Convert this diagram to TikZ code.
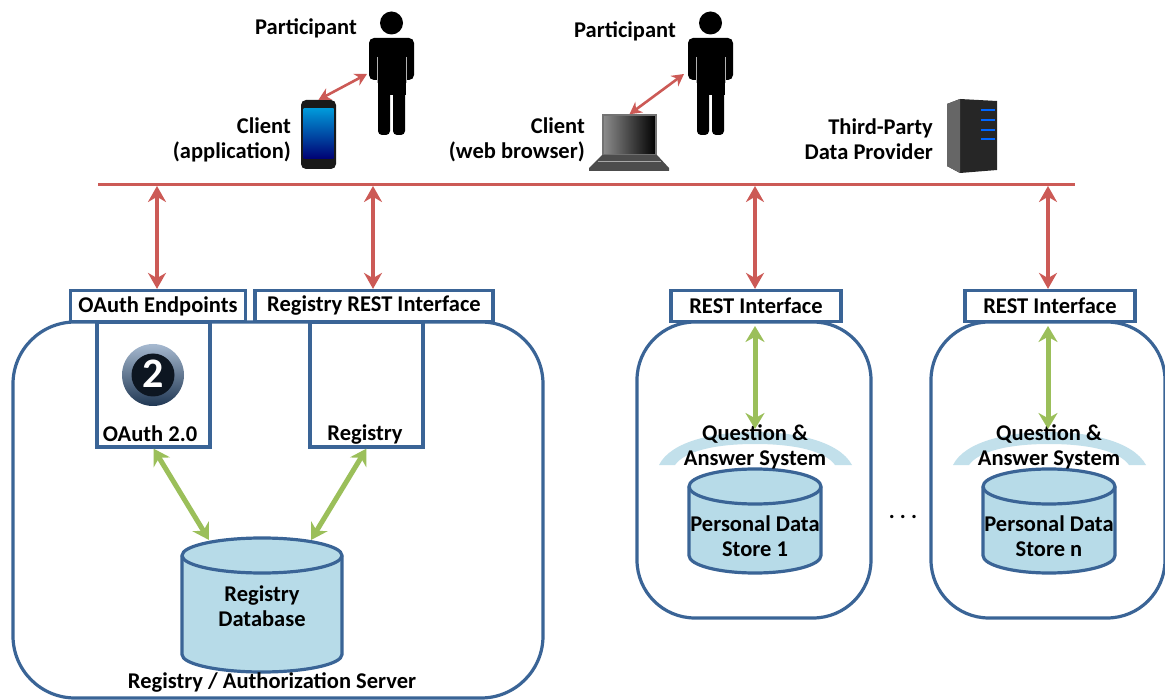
\documentclass[tikz,border=0pt]{standalone}
\usepackage{fontspec}
\setmainfont{Carlito}
\usetikzlibrary{arrows.meta}
\definecolor{boxblue}{HTML}{3A6496}
\definecolor{dbfill}{HTML}{B7DBE8}
\definecolor{busred}{HTML}{CC5A56}
\definecolor{linkgreen}{HTML}{9BBF5A}
\tikzset{
  lbl/.style={font=\fontsize{22.5}{25}\selectfont\bfseries, inner sep=0pt, align=center},
  lblr/.style={lbl, align=right, anchor=east},
  srvbox/.style={draw=boxblue, line width=3.2pt, rounded corners=62pt, fill=white},
  iface/.style={draw=boxblue, line width=3.2pt, fill=white, inner sep=0pt},
  appbox/.style={draw=boxblue, line width=3.2pt, fill=white, inner sep=0pt},
  redlink/.style={draw=busred, line width=4.8pt, {Stealth[length=16pt,width=18pt]}-{Stealth[length=16pt,width=18pt]}},
  thinlink/.style={draw=busred, line width=2.6pt, {Stealth[length=12pt,width=13pt]}-{Stealth[length=12pt,width=13pt]}},
  greenlink/.style={draw=linkgreen, line width=5pt, {Stealth[length=16pt,width=19pt]}-{Stealth[length=16pt,width=19pt]}},
  pics/dbcyl/.style 2 args={code={
    \draw[draw=boxblue, line width=3.2pt, fill=dbfill] (-#1,17.5) -- (-#1,{#2-17.5})
      arc[start angle=180, end angle=0, x radius=#1, y radius=17.5]
      -- (#1,17.5) arc[start angle=0, end angle=-180, x radius=#1, y radius=17.5] -- cycle;
    \draw[draw=boxblue, line width=3.2pt] (-#1,17.5) arc[start angle=180, end angle=0, x radius=#1, y radius=17.5];
  }},
  person/.pic={
    \fill (0,-112) circle (11.5);
    \fill[rounded corners=5pt] (-22.5,-97) rectangle (22.5,-55);
    \fill (-14,-70) rectangle (14,-40);
    \fill[rounded corners=4pt] (-13.5,-50) rectangle (-1.5,0);
    \fill[rounded corners=4pt] (1.5,-50) rectangle (13.5,0);
    \draw[white!70!black, line width=0.8pt] (-14.5,-78) -- (-14.5,-52);
    \draw[white!70!black, line width=0.8pt] (14.5,-78) -- (14.5,-52);
  },
  qasys/.pic={
    \fill[dbfill!85!white] (-96,0) .. controls (-84,-24) and (-40,-33) .. (0,-33)
      .. controls (40,-33) and (84,-24) .. (97,0) -- (80,0)
      .. controls (70,-14) and (40,-21) .. (0,-21)
      .. controls (-40,-21) and (-70,-14) .. (-80,0) -- cycle;
  }
}
\begin{document}
\begin{tikzpicture}[x=1pt,y=-1pt]
    \useasboundingbox (0,0) rectangle (1165,700);
    % servers
    \node (regsrv) [srvbox, minimum width=530pt, minimum height=376pt] at (278,510) {};
    \node (pdssrvA) [srvbox, rounded corners=58pt, minimum width=234pt, minimum height=296pt] at (754,470) {};
    \node (pdssrvB) [srvbox, rounded corners=58pt, minimum width=234pt, minimum height=296pt] at (1048,470) {};
    % registry side
    \node (oauthbox) [appbox, minimum width=113pt, minimum height=125pt] at (153.5,384.5) {};
    \node (regbox) [appbox, minimum width=113pt, minimum height=125pt] at (366.5,384.5) {};
    \node (oauthep) [iface, lbl, minimum width=175pt, minimum height=31pt] at (158,306) {OAuth Endpoints};
    \node (regrest) [iface, lbl, minimum width=238pt, minimum height=31pt] at (374,306) {Registry REST Interface};
    \node (oauthtxt) [lbl] at (150,434) {OAuth 2.0};
    \node (regtxt) [lbl] at (365,435) {Registry};
    \pic at (262,538) {dbcyl={80}{134}};
    \node (regdbtxt) [lbl] at (262,606) {Registry\\Database};
    \node (srvtxt) [lbl] at (272,682) {Registry / Authorization Server};
    \coordinate (regdbL) at (209,540);
    \coordinate (regdbR) at (311,540);
    \draw [greenlink] (oauthbox.south) -- (regdbL);
    \draw [greenlink] (regbox.south) -- (regdbR);
    % logo
    \node (logo) [circle, minimum size=62pt, inner sep=0pt, top color=boxblue!45!white, bottom color=boxblue!55!black] at (153,375) {};
    \fill [black!78!boxblue] (153,375) circle (21.5);
    \node (logotxt) [font=\fontsize{42}{42}\selectfont\bfseries, text=white, inner sep=0pt] at (153,374) {2};
    % data stores
    \node (restA) [iface, lbl, minimum width=170pt, minimum height=31pt] at (756,306) {REST Interface};
    \node (restB) [iface, lbl, minimum width=170pt, minimum height=31pt] at (1050,306) {REST Interface};
    \pic at (755,465) {qasys};
    \pic at (1049,465) {qasys};
    \pic at (755,469) {dbcyl={66}{104}};
    \pic at (1049,469) {dbcyl={66}{104}};
    \node (qaA) [lbl] at (755,447) {Question \&\\Answer System};
    \node (qaB) [lbl] at (1049,447) {Question \&\\Answer System};
    \node (pdsAtxt) [lbl] at (755,536) {Personal Data\\Store 1};
    \node (pdsBtxt) [lbl] at (1049,536) {Personal Data\\Store n};
    \node (dots) [lbl] at (903,517) {.\hspace{5pt}.\hspace{5pt}.};
    \coordinate (qaAtop) at (755,429);
    \coordinate (qaBtop) at (1048,429);
    \coordinate (restAin) at (755,326);
    \coordinate (restBin) at (1048,326);
    \draw [greenlink] (restAin) -- (qaAtop);
    \draw [greenlink] (restBin) -- (qaBtop);
    % bus
    \coordinate (busL) at (98,184.5);
    \coordinate (busR) at (1075,184.5);
    \draw [draw=busred, line width=2.6pt] (busL) -- (busR);
    \coordinate (busA) at (157,186);
    \coordinate (busB) at (373,186);
    \coordinate (busC) at (755,186);
    \coordinate (busD) at (1048,186);
    \draw [redlink] (busA) -- (oauthep.north -| busA);
    \draw [redlink] (busB) -- (regrest.north -| busB);
    \draw [redlink] (busC) -- (restA.north -| busC);
    \draw [redlink] (busD) -- (restB.north -| busD);
    % participants
    \pic at (391.5,135) {person};
    \pic at (710.5,135) {person};
    \node (partA) [lblr] at (357,28) {Participant};
    \node (partB) [lblr] at (676,31) {Participant};
    \coordinate (partAarm) at (367,74);
    \coordinate (partBarm) at (684,74);
    % phone
    \node (phone) [fill=black!90, rounded corners=5pt, minimum width=35pt, minimum height=69pt, inner sep=0pt] at (318.5,134.5) {};
    \node (phonescr) [top color=cyan!70!blue!85!black, bottom color=blue!45!black, minimum width=30pt, minimum height=50pt, inner sep=0pt] at (318.5,134) {};
    \node (clientA) [lblr] at (291,140) {Client\\(application)};
    \draw [thinlink] (phone.north) -- (partAarm);
    % laptop
    \node (lapscr) [draw=black!55, line width=1.5pt, left color=black!45, right color=black, minimum width=53pt, minimum height=40pt, inner sep=0pt] at (629.5,135) {};
    \fill [black!70] (602,155) -- (657,155) -- (669,168) -- (669,171) -- (589,171) -- (589,168) -- cycle;
    \draw [black!35, line width=1pt] (598,162) -- (661,162);
    \node (clientB) [lblr] at (585,140) {Client\\(web browser)};
    \draw [thinlink] (lapscr.north) -- (partBarm);
    % third party
    \fill [black!85] (947,104) -- (960,99) -- (997,101) -- (997,170) -- (960,173) -- (947,166) -- cycle;
    \fill [black!60] (947,104) -- (960,99) -- (960,173) -- (947,166) -- cycle;
    \draw [blue!60!cyan, line width=2pt] (981,110) -- (995,110);
    \draw [blue!60!cyan, line width=2pt] (981,120) -- (995,120);
    \draw [blue!60!cyan, line width=2pt] (981,130) -- (995,130);
    \draw [blue!60!cyan, line width=2pt] (981,139) -- (995,139);
    \node (third) [lblr] at (933,139) {Third-Party\\Data Provider};
\end{tikzpicture}
\end{document}
